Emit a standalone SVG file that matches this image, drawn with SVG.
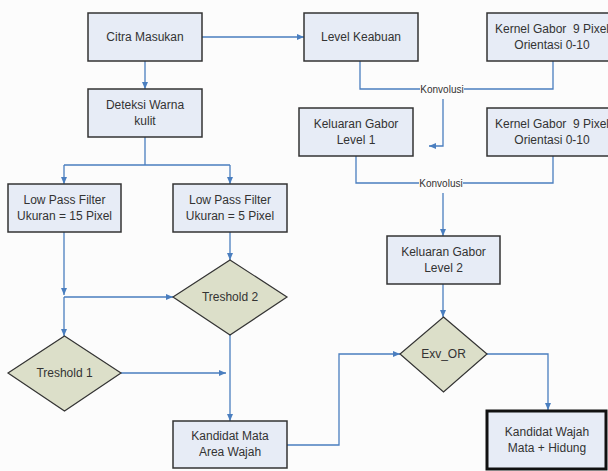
<svg xmlns="http://www.w3.org/2000/svg" width="608" height="471" viewBox="0 0 608 471">
<defs>
<marker id="ah" markerWidth="7" markerHeight="6" refX="7" refY="3" orient="auto" markerUnits="userSpaceOnUse">
<path d="M0,0 L7,3 L0,6 Z" fill="#4a7ebf"/>
</marker>
</defs>
<style>
.box{fill:#e7ecf6;stroke:#333;stroke-width:1.5}
.dia{fill:#dcdfc9;stroke:#333;stroke-width:1.2}
.t{font-family:"Liberation Sans",Arial,sans-serif;font-size:12px;fill:#333;text-anchor:middle;dominant-baseline:central;white-space:pre}
.k{font-family:"Liberation Sans",Arial,sans-serif;font-size:10px;fill:#333;text-anchor:middle;dominant-baseline:central}
.c{fill:none;stroke:#4a7ebf;stroke-width:1.3}
.a{marker-end:url(#ah)}
</style>
<rect x="0" y="0" width="608" height="471" fill="#fcfcfc"/>
<g id="connectors">
<path class="c a" d="M202,37 H304"/>
<path class="c a" d="M145,61 V89"/>
<path class="c" d="M145,137 V165 M64,165 H230"/>
<path class="c a" d="M64,165 V184"/>
<path class="c a" d="M230,165 V184"/>
<path class="c" d="M360,61 V89 H553 V61"/>
<path class="c a" d="M443,99 V146 H429"/>
<path class="c" d="M356,156 V183 H553 V156"/>
<path class="c a" d="M443,193 V236"/>
<path class="c a" d="M443,284 V317"/>
<path class="c a" d="M64,232 V295"/>
<path class="c a" d="M64,297 V336"/>
<path class="c a" d="M64,297 H173"/>
<path class="c a" d="M230,232 V260"/>
<path class="c a" d="M121,373 H226"/>
<path class="c a" d="M230,335 V421"/>
<path class="c a" d="M287,445 H339 V354 H400"/>
<path class="c a" d="M487,354 H548 V410"/>
<g id="lbl1"><rect x="420" y="83" width="44" height="12" fill="#fcfcfc"/><text class="k" x="442" y="89">Konvolusi</text></g>
<g id="lbl2"><rect x="419" y="177" width="44" height="12" fill="#fcfcfc"/><text class="k" x="441" y="183">Konvolusi</text></g>
</g>
<g id="citra"><rect class="box" x="88" y="13" width="114" height="48"/><text class="t" x="145" y="37">Citra Masukan</text></g>
<g id="level"><rect class="box" x="304" y="13" width="114" height="48"/><text class="t" x="361" y="37">Level Keabuan</text></g>
<g id="kernel1"><rect class="box" x="487" y="13" width="130" height="48"/><text class="t" x="552" y="29" xml:space="preserve">Kernel Gabor  9 Pixel</text><text class="t" x="552" y="45">Orientasi 0-10</text></g>
<g id="deteksi"><rect class="box" x="88" y="89" width="114" height="48"/><text class="t" x="145" y="105">Deteksi Warna</text><text class="t" x="145" y="121">kulit</text></g>
<g id="gabor1"><rect class="box" x="299" y="108" width="114" height="48"/><text class="t" x="356" y="124">Keluaran Gabor</text><text class="t" x="356" y="140">Level 1</text></g>
<g id="kernel2"><rect class="box" x="487" y="108" width="130" height="48"/><text class="t" x="552" y="124" xml:space="preserve">Kernel Gabor  9 Pixel</text><text class="t" x="552" y="140">Orientasi 0-10</text></g>
<g id="lpf15"><rect class="box" x="8" y="184" width="113" height="48"/><text class="t" x="64.5" y="200">Low Pass Filter</text><text class="t" x="64.5" y="216">Ukuran = 15 Pixel</text></g>
<g id="lpf5"><rect class="box" x="173" y="184" width="114" height="48"/><text class="t" x="230" y="200">Low Pass Filter</text><text class="t" x="230" y="216">Ukuran = 5 Pixel</text></g>
<g id="gabor2"><rect class="box" x="387" y="236" width="113" height="48"/><text class="t" x="443.5" y="252">Keluaran Gabor</text><text class="t" x="443.5" y="268">Level 2</text></g>
<g id="treshold2"><polygon class="dia" points="230,260 287,297 230,335 173,297"/><text class="t" x="230" y="297">Treshold 2</text></g>
<g id="treshold1"><polygon class="dia" points="64.5,336 121,373 64.5,411 8,373"/><text class="t" x="64.5" y="373">Treshold 1</text></g>
<g id="exvor"><polygon class="dia" points="443.5,317 487,354 443.5,392 400,354"/><text class="t" x="443.5" y="354">Exv_OR</text></g>
<g id="kandidatmata"><rect class="box" x="173" y="421" width="114" height="47"/><text class="t" x="230" y="436">Kandidat Mata</text><text class="t" x="230" y="452">Area Wajah</text></g>
<g id="kandidatwajah"><rect class="box" x="487" y="411" width="119" height="58" style="stroke:#111;stroke-width:3"/><text class="t" x="547" y="432">Kandidat Wajah</text><text class="t" x="547" y="448">Mata + Hidung</text></g>
</svg>
